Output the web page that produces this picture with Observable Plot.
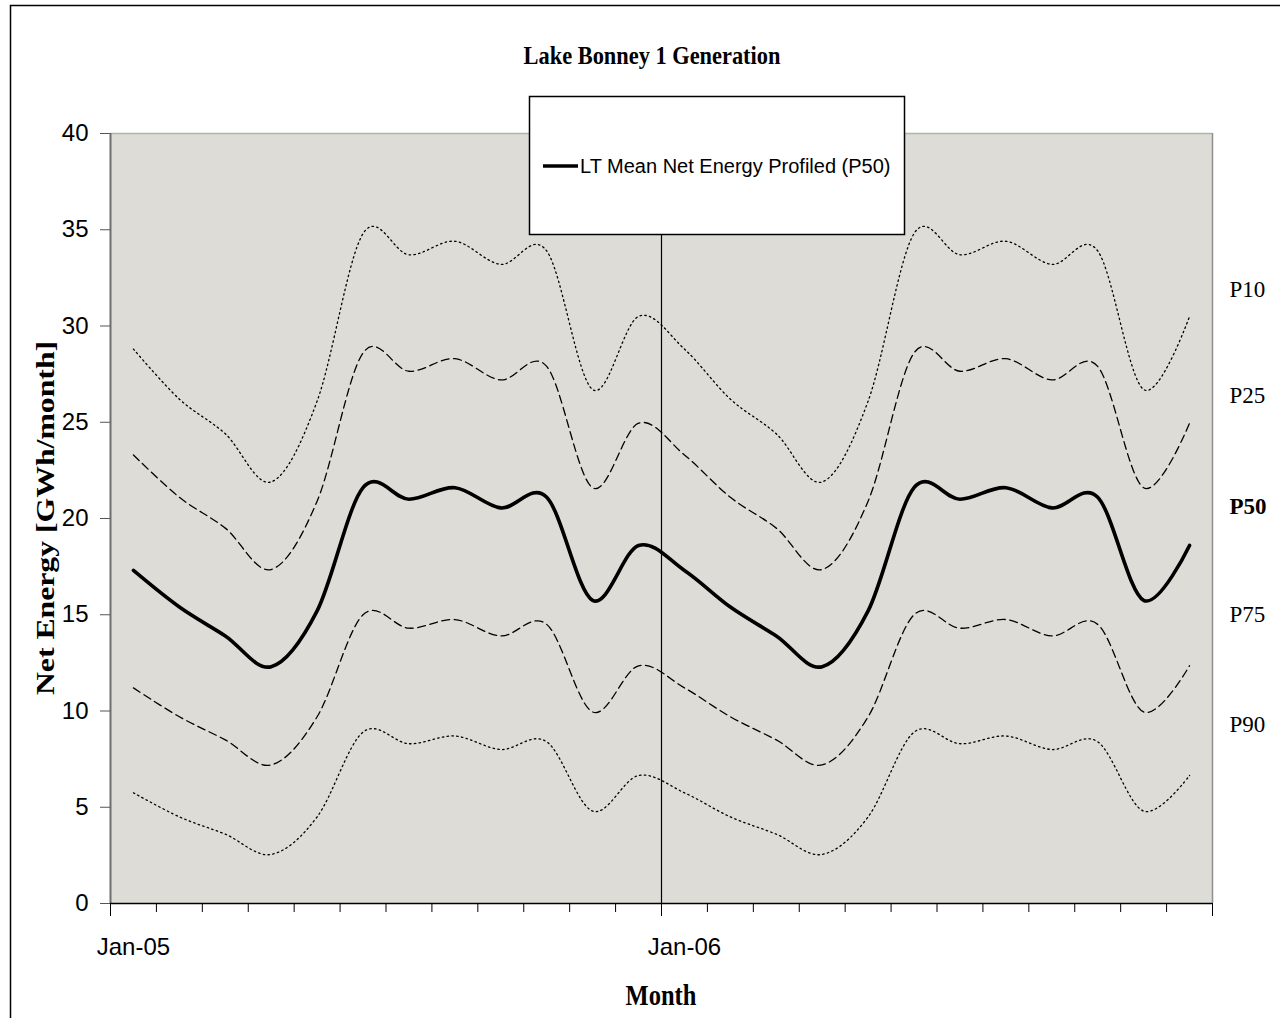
<!DOCTYPE html>
<html><head><meta charset="utf-8">
<script src="https://cdn.jsdelivr.net/npm/d3@7"></script>
<script src="https://cdn.jsdelivr.net/npm/@observablehq/plot@0.6"></script>
<style>
html,body{margin:0;padding:0;background:#fff;}
#chart{position:relative;width:1280px;height:1018px;overflow:hidden;}
</style></head><body><div id="chart"></div>
<script>
// ---- data ----
const months = ["Jan-05","Feb-05","Mar-05","Apr-05","May-05","Jun-05","Jul-05","Aug-05","Sep-05","Oct-05","Nov-05","Dec-05",
                "Jan-06","Feb-06","Mar-06","Apr-06","May-06","Jun-06","Jul-06","Aug-06","Sep-06","Oct-06","Nov-06","Dec-06"];
const p10 = [28.8, 26.2, 24.4, 21.9, 26.1, 34.8, 33.7, 34.4, 33.2, 33.9, 26.7, 30.5,
             28.8, 26.2, 24.4, 21.9, 26.1, 34.8, 33.7, 34.4, 33.2, 33.9, 26.7, 30.5];
const p25 = [23.3, 21.1, 19.5, 17.35, 20.9, 28.6, 27.65, 28.3, 27.2, 27.9, 21.6, 24.95,
             23.3, 21.1, 19.5, 17.35, 20.9, 28.6, 27.65, 28.3, 27.2, 27.9, 21.6, 24.95];
const p50 = [17.3, 15.4, 13.9, 12.3, 15.2, 21.6, 21.0, 21.6, 20.55, 21.1, 15.75, 18.6,
             17.3, 15.4, 13.9, 12.3, 15.2, 21.6, 21.0, 21.6, 20.55, 21.1, 15.75, 18.6];
const p75 = [11.2, 9.7, 8.5, 7.2, 9.7, 15.0, 14.3, 14.75, 13.9, 14.5, 9.95, 12.35,
             11.2, 9.7, 8.5, 7.2, 9.7, 15.0, 14.3, 14.75, 13.9, 14.5, 9.95, 12.35];
const p90 = [5.75, 4.5, 3.6, 2.55, 4.5, 8.9, 8.3, 8.7, 8.0, 8.4, 4.8, 6.65,
             5.75, 4.5, 3.6, 2.55, 4.5, 8.9, 8.3, 8.7, 8.0, 8.4, 4.8, 6.65];
const seriesNames = ["P10","P25","P50","P75","P90"];
const seriesLabelY = [31.9, 26.4, 20.6, 15.0, 9.3];
const yTicks = [0,5,10,15,20,25,30,35,40];
const xLabels = ["Jan-05","Jan-06"];
const dividerMonth = "Jan-06";
const titleText = "Lake Bonney 1 Generation";
const legendText = "LT Mean Net Energy Profiled (P50)";
const xTitle = "Month";
const yTitle = "Net Energy [GWh/month]";

// ---- build table ----
const seriesValues = [p10,p25,p50,p75,p90];
const rows = seriesNames.flatMap((s,k) => seriesValues[k].map((v,i) => ({i, month: months[i], series: s, value: v})));
const boundaries = d3.range(months.length + 1).map(i => i - 0.5);
const majorBoundaries = [-0.5, months.indexOf(dividerMonth) - 0.5, months.length - 0.5];
const labelIdx = xLabels.map(m => months.indexOf(m));
const labelRows = seriesNames.map((s,k) => ({s, y: seriesLabelY[k], bold: s === "P50"}));

const W = 1280, H = 1018;
const mL = 110, mR = 68, mT = 133, mB = 115;
const sans = "'Liberation Sans', Arial, sans-serif";
const serif = "'Liberation Serif', 'Times New Roman', serif";

const styleFor = {
  P10: {strokeWidth: 1.3, strokeDasharray: "1.5,3.3"},
  P90: {strokeWidth: 1.3, strokeDasharray: "1.5,3.3"},
  P25: {strokeWidth: 1.3, strokeDasharray: "8,4.5"},
  P75: {strokeWidth: 1.3, strokeDasharray: "8,4.5"},
  P50: {strokeWidth: 3.6, strokeDasharray: null}
};

const chart = Plot.plot({
  width: W, height: H,
  marginTop: mT, marginBottom: mB, marginLeft: mL, marginRight: mR,
  style: {fontFamily: sans, fontSize: "24px", color: "#000", background: "transparent", overflow: "visible"},
  x: {type: "linear", domain: [-0.5, months.length - 0.5], axis: null},
  y: {domain: [0, 40], axis: null},
  marks: [
    Plot.frame({fill: "#DDDCD7", stroke: null}),
    Plot.ruleY([40], {stroke: "#A3BBA3", strokeWidth: 1.5}),
    Plot.ruleX([months.length - 0.5], {stroke: "#8E8E8E", strokeWidth: 1.5}),
    Plot.ruleX([months.indexOf(dividerMonth) - 0.5], {stroke: "#000", strokeWidth: 1.2}),
    ...seriesNames.map(s => Plot.line(rows.filter(d => d.series === s), {
      x: "i", y: "value", curve: "cardinal", stroke: "#000",
      strokeWidth: styleFor[s].strokeWidth, strokeDasharray: styleFor[s].strokeDasharray,
      strokeLinejoin: "round"
    })),
    Plot.ruleX([-0.5], {stroke: "#6E6E6E", strokeWidth: 2}),
    Plot.ruleY([0], {stroke: "#000", strokeWidth: 1.5}),
    Plot.axisY(yTicks, {tickSize: 10, tickPadding: 12, fontSize: 24, stroke: "#555", label: null}),
    Plot.axisX(boundaries, {tickSize: 9, tickFormat: () => "", label: null, stroke: "#000"}),
    Plot.axisX(majorBoundaries, {tickSize: 13, tickFormat: () => "", label: null, stroke: "#000"}),
    Plot.axisX(labelIdx, {tickSize: 0, tickPadding: 34, tickFormat: i => months[i], fontSize: 24, label: null}),
    Plot.text(labelRows.filter(d => !d.bold), {y: "y", text: "s", frameAnchor: "right", dx: 17, textAnchor: "start",
      fontFamily: serif, fontSize: 23}),
    Plot.text(labelRows.filter(d => d.bold), {y: "y", text: "s", frameAnchor: "right", dx: 17, textAnchor: "start",
      fontFamily: serif, fontSize: 23, fontWeight: "bold"})
  ]
});

const svg = d3.select(chart);
// outer chart-area border
svg.append("path").attr("d", `M10.5,${H + 5} V5.5 H${W + 5}`).attr("fill", "none").attr("stroke", "#000").attr("stroke-width", 1.5);
// title
svg.append("text").text(titleText)
  .attr("transform", "translate(652,64) scale(1,1.17)")
  .attr("text-anchor", "middle").attr("font-family", serif).attr("font-weight", "bold").attr("font-size", 22.4);
// x title
svg.append("text").text(xTitle)
  .attr("transform", `translate(${mL + (W - mL - mR) / 2},1005) scale(1,1.17)`)
  .attr("text-anchor", "middle").attr("font-family", serif).attr("font-weight", "bold").attr("font-size", 24.5);
// y title
svg.append("text").text(yTitle)
  .attr("transform", `translate(54,${mT + (H - mT - mB) / 2}) rotate(-90) scale(1.22,1)`)
  .attr("text-anchor", "middle").attr("font-family", serif).attr("font-weight", "bold").attr("font-size", 26);
// legend box
const lg = svg.append("g");
lg.append("rect").attr("x", 529.5).attr("y", 96.5).attr("width", 375).attr("height", 138)
  .attr("fill", "#fff").attr("stroke", "#000").attr("stroke-width", 1.5);
lg.append("line").attr("x1", 543).attr("x2", 578).attr("y1", 166).attr("y2", 166)
  .attr("stroke", "#000").attr("stroke-width", 3.6);
lg.append("text").text(legendText).attr("x", 580).attr("y", 166).attr("dy", "0.35em")
  .attr("text-anchor", "start")
  .attr("font-family", sans).attr("font-size", 20);

document.getElementById("chart").appendChild(chart);
</script>
</body></html>
